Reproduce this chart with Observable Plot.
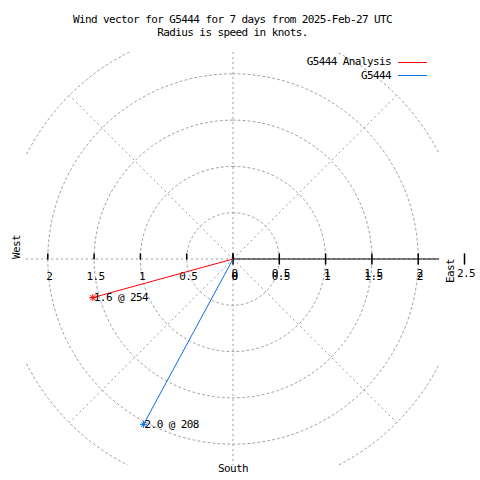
<!DOCTYPE html>
<html>
<head>
<meta charset="utf-8">
<script src="https://cdn.jsdelivr.net/npm/d3@7"></script>
<script src="https://cdn.jsdelivr.net/npm/@observablehq/plot@0.6"></script>
<style>
  html, body { margin: 0; padding: 0; background: #fff; }
  #wrap { position: relative; width: 480px; height: 480px; font-family: "DejaVu Sans Mono", monospace; font-size: 11px; letter-spacing: -0.6px; color: #000; }
  #title { position: absolute; top: 13px; left: 0; width: 465px; text-align: center; line-height: 13px; white-space: pre; }
  #chart { position: absolute; top: 40px; left: 0; }
  #legend { position: absolute; top: 55px; left: 0; width: 480px; }
  .lg { position: absolute; right: 89px; height: 13px; line-height: 13px; white-space: pre; }
  .ls { position: absolute; left: 398px; width: 29px; height: 1px; }
</style>
</head>
<body>
<div id="wrap">
  <div id="title"></div>
  <div id="chart"></div>
  <div id="legend"></div>
</div>
<script>
// ---- data ----
const titleLines = ["Wind vector for G5444 for 7 days from 2025-Feb-27 UTC", "Radius is speed in knots."];
const series = ["G5444 Analysis", "G5444"];
const colors = ["#ff0000", "#0a6ee6"];
const speeds = [1.57, 2.03];          // knots
const directions = [254.6, 208.4];    // degrees, clockwise from north
const gridRadii = [0.5, 1, 1.5, 2, 2.5];
const spokeAngles = [0, 45, 90, 135, 180, 225, 270, 315];
const rightTicks = [0, 0.5, 1, 1.5, 2, 2.5];
const rightTicksDup = [0, 0.5, 1, 1.5, 2];
const leftTicks = [2, 1.5, 1, 0.5, 0];
const compassLabels = ["West", "East", "South"];
const extent = 2.23;

// ---- derived tables ----
const rad = d => d * Math.PI / 180;
const vectors = series.map((s, i) => ({
  series: s,
  x: speeds[i] * Math.sin(rad(directions[i])),
  y: speeds[i] * Math.cos(rad(directions[i])),
  label: speeds[i].toFixed(1) + " @ " + Math.trunc(directions[i])
}));
const circlePts = [];
for (const r of gridRadii) for (let a = 0; a <= 360; a += 2) circlePts.push({r, x: r * Math.sin(rad(a)), y: r * Math.cos(rad(a))});
const spokes = spokeAngles.map(a => ({x2: 2.5 * Math.sin(rad(a)), y2: 2.5 * Math.cos(rad(a))}));

const noHead = {draw(ctx, l) { ctx.moveTo(0, 0); ctx.lineTo(0, -l); }};
const grid = {stroke: "#a0a0a0", strokeWidth: 1, strokeDasharray: "2,3", clip: true};

const chart = Plot.plot({
  width: 480, height: 440,
  marginLeft: 26, marginRight: 41, marginTop: 12, marginBottom: 15,
  x: {domain: [-extent, extent], axis: null},
  y: {domain: [-extent, extent], axis: null},
  color: {domain: series, range: colors},
  style: {fontFamily: "DejaVu Sans Mono", fontSize: "11px", letterSpacing: "-0.6px", background: "#fff", overflow: "visible"},
  marks: [
    Plot.line(circlePts, {x: "x", y: "y", z: "r", ...grid}),
    Plot.link(spokes, {x1: 0, y1: 0, x2: "x2", y2: "y2", ...grid}),
    Plot.ruleY([0], {x1: 0, x2: extent, stroke: "#000", strokeWidth: 1}),
    Plot.vector(rightTicks, {x: d => d, y: 0, length: 10, anchor: "middle", shape: noHead, stroke: "#000"}),
    Plot.vector(leftTicks, {x: d => -d, y: 0, length: 5, anchor: "start", shape: noHead, stroke: "#000"}),
    Plot.text(rightTicks, {x: d => d, y: 0, text: d => String(d), dy: 14, dx: 1.5, fill: "#000"}),
    Plot.text(rightTicksDup, {x: d => d, y: 0, text: d => String(d), dy: 17, dx: 1.5, fill: "#000"}),
    Plot.text(leftTicks, {x: d => -d, y: 0, text: d => String(d), dy: 17, dx: 1.5, fill: "#000"}),
    Plot.text([compassLabels[0]], {frameAnchor: "left", dx: -10.5, rotate: -90, fill: "#000"}),
    Plot.text([compassLabels[1]], {frameAnchor: "right", dx: 11, rotate: -90, fill: "#000"}),
    Plot.text([compassLabels[2]], {frameAnchor: "bottom", dy: 6, fill: "#000"}),
    Plot.link(vectors, {x1: 0, y1: 0, x2: "x", y2: "y", stroke: "series", strokeWidth: 1}),
    Plot.dot(vectors, {x: "x", y: "y", symbol: "plus", r: 2.4, stroke: "series", strokeWidth: 1}),
    Plot.dot(vectors, {x: "x", y: "y", symbol: "times", r: 2.4, stroke: "series", strokeWidth: 1}),
    Plot.text(vectors, {x: "x", y: "y", text: "label", textAnchor: "start", dx: 1, fill: "#000"})
  ]
});
document.getElementById("chart").appendChild(chart);
document.getElementById("title").textContent = titleLines.join("\n");

const legend = document.getElementById("legend");
series.forEach((s, i) => {
  const t = document.createElement("div");
  t.className = "lg"; t.textContent = s; t.style.top = (i * 13.7) + "px";
  legend.appendChild(t);
  const l = document.createElement("div");
  l.className = "ls"; l.style.background = colors[i]; l.style.top = (6.5 + i * 13.7) + "px";
  legend.appendChild(l);
});
</script>
</body>
</html>
